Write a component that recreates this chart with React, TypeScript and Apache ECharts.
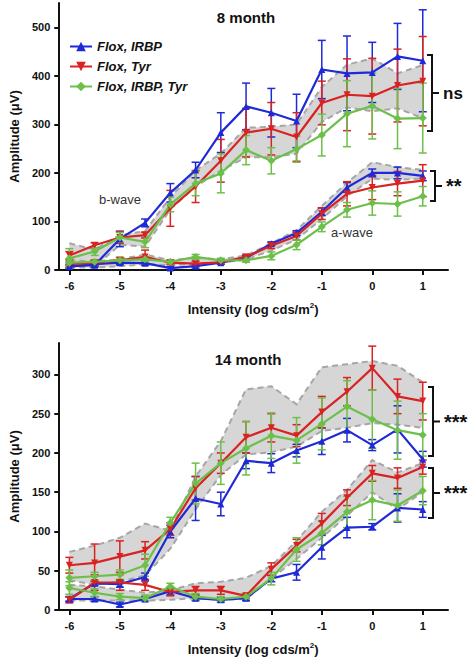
import React, { useEffect, useRef } from "react";
import * as echarts from "echarts";

// ---------- data ----------
const intensity = [-6, -5.5, -5, -4.5, -4, -3.5, -3, -2.5, -2, -1.5, -1, -0.5, 0, 0.5, 1];
const xTicks = [-6, -5, -4, -3, -2, -1, 0, 1];
const yTicks8 = [0, 100, 200, 300, 400, 500];
const yTicks14 = [0, 50, 100, 150, 200, 250, 300];
const groupNames = ["Flox, IRBP", "Flox, Tyr", "Flox, IRBP, Tyr"];

// 8 month b-wave
const m8bIrbp = [8, 10, 64, 97, 159, 206, 283, 337, 324, 307, 413, 405, 407, 440, 431];
const m8bIrbpErr = [4, 4, 16, 8, 19, 16, 41, 48, 50, 55, 60, 77, 62, 68, 105];
const m8bTyr = [30, 51, 67, 72, 127, 172, 225, 283, 291, 274, 344, 361, 358, 380, 389];
const m8bTyrErr = [8, 5, 12, 6, 37, 33, 44, 50, 54, 50, 45, 74, 78, 75, 92];
const m8bBoth = [24, 38, 67, 58, 135, 178, 199, 247, 225, 249, 278, 322, 338, 312, 313];
const m8bBothErr = [20, 8, 10, 12, 15, 25, 40, 30, 27, 27, 43, 68, 68, 62, 72];
// 8 month a-wave
const m8aIrbp = [7, 12, 15, 14, 4, 8, 15, 25, 54, 76, 120, 170, 200, 200, 194];
const m8aIrbpErr = [3, 4, 4, 4, 3, 4, 3, 4, 4, 5, 8, 10, 8, 12, 10];
const m8aTyr = [12, 15, 20, 27, 15, 13, 16, 27, 50, 70, 116, 157, 170, 178, 184];
const m8aTyrErr = [4, 5, 6, 14, 4, 5, 4, 5, 6, 8, 12, 25, 25, 25, 33];
const m8aBoth = [15, 17, 20, 22, 17, 27, 20, 20, 29, 52, 89, 124, 138, 136, 152];
const m8aBothErr = [5, 4, 5, 5, 4, 5, 4, 4, 8, 10, 10, 15, 25, 25, 20];
// 8 month control bands
const m8bBandHi = [55, 42, 72, 80, 150, 205, 240, 293, 295, 300, 377, 423, 436, 405, 422];
const m8bBandLo = [14, 6, 52, 48, 125, 172, 205, 232, 232, 240, 305, 335, 327, 333, 313];
const m8aBandHi = [20, 18, 22, 32, 20, 25, 22, 30, 55, 82, 132, 180, 222, 212, 206];
const m8aBandLo = [5, 5, 8, 12, 10, 12, 15, 22, 40, 63, 105, 152, 188, 186, 188];

// 14 month b-wave
const m14bIrbp = [14, 34, 33, 42, 100, 142, 135, 190, 187, 203, 215, 229, 210, 230, 192];
const m14bIrbpErr = [3, 3, 4, 5, 8, 28, 15, 10, 12, 8, 17, 15, 7, 30, 10];
const m14bTyr = [57, 60, 68, 76, 103, 155, 187, 220, 232, 222, 252, 278, 308, 272, 266];
const m14bTyrErr = [10, 24, 20, 11, 8, 15, 13, 20, 18, 14, 20, 18, 28, 22, 24];
const m14bBoth = [41, 43, 45, 57, 111, 161, 187, 206, 222, 216, 237, 259, 243, 229, 223];
const m14bBothErr = [10, 5, 6, 14, 7, 26, 27, 34, 29, 29, 33, 33, 37, 37, 27];
// 14 month a-wave
const m14aIrbp = [14, 14, 7, 14, 24, 15, 13, 15, 40, 48, 80, 105, 106, 130, 128];
const m14aIrbpErr = [3, 3, 3, 3, 5, 3, 3, 3, 4, 10, 15, 13, 4, 18, 10];
const m14aTyr = [13, 35, 35, 32, 23, 25, 25, 18, 52, 82, 110, 143, 174, 168, 182];
const m14aTyrErr = [4, 10, 10, 7, 5, 5, 5, 3, 8, 8, 13, 10, 10, 13, 9];
const m14aBoth = [28, 22, 17, 15, 30, 17, 14, 17, 40, 77, 98, 125, 140, 133, 152];
const m14aBothErr = [8, 5, 4, 4, 4, 4, 3, 3, 8, 15, 15, 20, 25, 20, 18];
// 14 month control bands
const m14bBandHi = [74, 82, 92, 110, 101, 170, 215, 281, 285, 262, 309, 313, 317, 311, 290];
const m14bBandLo = [38, 32, 36, 44, 78, 128, 172, 198, 201, 208, 228, 232, 238, 236, 232];
const m14aBandHi = [32, 30, 26, 22, 25, 34, 36, 41, 56, 88, 125, 153, 191, 175, 187];
const m14aBandLo = [12, 12, 12, 12, 13, 15, 13, 14, 40, 65, 92, 120, 150, 128, 150];

// ---------- styles ----------
const FONT = "'Liberation Sans', Arial, sans-serif";
const BLUE = "#1f2ad6";
const RED = "#d92222";
const GREEN = "#6cc04a";
const colors = [BLUE, RED, GREEN];
const symbols = ["triangle", "triangle", "diamond"];
const rotates = [0, 180, 0];

function lineSeries(gi: number, k: number, vals: number[]) {
  return {
    type: "line",
    name: groupNames[k],
    xAxisIndex: gi,
    yAxisIndex: gi,
    data: intensity.map((x, i) => [x, vals[i]]),
    symbol: symbols[k],
    symbolRotate: rotates[k],
    symbolSize: k === 2 ? 8 : 7,
    lineStyle: { color: colors[k], width: 2.2 },
    itemStyle: { color: colors[k] },
    z: 5,
    silent: true,
  };
}

function errSeries(gi: number, k: number, vals: number[], errs: number[]) {
  const color = colors[k];
  return {
    type: "custom",
    xAxisIndex: gi,
    yAxisIndex: gi,
    data: intensity.map((x, i) => [x, vals[i], errs[i]]),
    encode: { x: 0, y: 1 },
    clip: false,
    silent: true,
    z: 4,
    renderItem: (params: any, api: any) => {
      const x = api.value(0);
      const m = api.value(1);
      const e = api.value(2);
      const t = api.coord([x, m + e]);
      const b = api.coord([x, Math.max(0, m - e)]);
      const c = 4;
      const st = { stroke: color, lineWidth: 1.5 };
      return {
        type: "group",
        children: [
          { type: "line", shape: { x1: t[0], y1: t[1], x2: b[0], y2: b[1] }, style: st },
          { type: "line", shape: { x1: t[0] - c, y1: t[1], x2: t[0] + c, y2: t[1] }, style: st },
          { type: "line", shape: { x1: b[0] - c, y1: b[1], x2: b[0] + c, y2: b[1] }, style: st },
        ],
      };
    },
  };
}

function bandSeries(gi: number, hi: number[], lo: number[]) {
  return {
    type: "custom",
    xAxisIndex: gi,
    yAxisIndex: gi,
    data: [[intensity[0], lo[0]]],
    encode: { x: 0, y: 1 },
    clip: false,
    silent: true,
    z: 1,
    renderItem: (params: any, api: any) => {
      const up = intensity.map((x, i) => api.coord([x, hi[i]]));
      const dn = intensity.map((x, i) => api.coord([x, lo[i]]));
      const dash = { stroke: "#a6a6a6", lineWidth: 2, lineDash: [6, 4], fill: null };
      return {
        type: "group",
        children: [
          { type: "polygon", shape: { points: [...up, ...dn.slice().reverse()] }, style: { fill: "#d6d6d6" } },
          { type: "polyline", shape: { points: up }, style: dash },
          { type: "polyline", shape: { points: dn }, style: dash },
        ],
      };
    },
  };
}

const labelStyle = { fontFamily: FONT, fontWeight: "bold", fontSize: 11, color: "#111" };
const axisLine = { show: true, onZero: false, lineStyle: { color: "#111", width: 2 } };

function xAxis(gi: number) {
  return {
    type: "value",
    gridIndex: gi,
    min: -6.22,
    max: 1.5,
    axisLine,
    axisTick: { show: true, length: 5, lineStyle: { color: "#111", width: 2 }, customValues: xTicks },
    axisLabel: { ...labelStyle, margin: 10, customValues: xTicks },
    splitLine: { show: false },
    name: "Intensity (log cds/m{sup|2})",
    nameLocation: "middle",
    nameGap: 31,
    nameTextStyle: {
      fontFamily: FONT,
      fontWeight: "bold",
      fontSize: 13,
      color: "#111",
      rich: { sup: { fontFamily: FONT, fontWeight: "bold", fontSize: 8, color: "#111", verticalAlign: "top", padding: [0, 0, 8, 0] } },
    },
  };
}

function yAxis(gi: number, max: number, ticks: number[]) {
  return {
    type: "value",
    gridIndex: gi,
    min: 0,
    max,
    axisLine,
    axisTick: { show: true, length: 4, lineStyle: { color: "#111", width: 2 }, customValues: ticks },
    axisLabel: { ...labelStyle, margin: 8, customValues: ticks },
    splitLine: { show: false },
    name: "Amplitude (μV)",
    nameLocation: "middle",
    nameGap: 32,
    nameTextStyle: { fontFamily: FONT, fontWeight: "bold", fontSize: 13, color: "#111" },
  };
}

function bracket(xv: number, y1: number, y2: number, text: string, size: number) {
  const ym = (y1 + y2) / 2;
  return [
    {
      type: "polyline",
      shape: { points: [[xv - 5, y1], [xv, y1], [xv, y2], [xv - 5, y2]] },
      style: { stroke: "#111", lineWidth: 2, fill: null },
    },
    { type: "line", shape: { x1: xv, y1: ym, x2: xv + 7, y2: ym }, style: { stroke: "#111", lineWidth: 2 } },
    {
      type: "text",
      x: xv + 11,
      y: ym,
      style: { text, fontFamily: FONT, fontWeight: "bold", fontSize: size, fill: "#111", verticalAlign: "middle", align: "left" },
    },
  ];
}

export default function App() {
  const ref = useRef<HTMLDivElement>(null);
  useEffect(() => {
    if (!ref.current) return;
    const chart = echarts.init(ref.current, null, { renderer: "svg" });

    const m8 = {
      b: [m8bIrbp, m8bTyr, m8bBoth],
      be: [m8bIrbpErr, m8bTyrErr, m8bBothErr],
      a: [m8aIrbp, m8aTyr, m8aBoth],
      ae: [m8aIrbpErr, m8aTyrErr, m8aBothErr],
    };
    const m14 = {
      b: [m14bIrbp, m14bTyr, m14bBoth],
      be: [m14bIrbpErr, m14bTyrErr, m14bBothErr],
      a: [m14aIrbp, m14aTyr, m14aBoth],
      ae: [m14aIrbpErr, m14aTyrErr, m14aBothErr],
    };

    const series: any[] = [];
    series.push(bandSeries(0, m8bBandHi, m8bBandLo));
    series.push(bandSeries(0, m8aBandHi, m8aBandLo));
    series.push(bandSeries(1, m14bBandHi, m14bBandLo));
    series.push(bandSeries(1, m14aBandHi, m14aBandLo));
    [m8, m14].forEach((d, gi) => {
      for (let k = 0; k < 3; k++) {
        series.push(errSeries(gi, k, d.b[k], d.be[k]));
        series.push(errSeries(gi, k, d.a[k], d.ae[k]));
      }
    });
    [m8, m14].forEach((d, gi) => {
      for (let k = 0; k < 3; k++) {
        series.push(lineSeries(gi, k, d.b[k]));
        series.push(lineSeries(gi, k, d.a[k]));
      }
    });

    const option: any = {
      animation: false,
      backgroundColor: "#ffffff",
      grid: [
        { left: 46, top: 3, width: 402, height: 267 },
        { left: 46, top: 343, width: 402, height: 267 },
      ],
      xAxis: [xAxis(0), xAxis(1)],
      yAxis: [yAxis(0, 550, yTicks8), yAxis(1, 340, yTicks14)],
      legend: {
        data: groupNames,
        orient: "vertical",
        left: 64,
        top: 35,
        itemWidth: 22,
        itemHeight: 12,
        itemGap: 7,
        selectedMode: false,
        textStyle: { fontFamily: FONT, fontWeight: "bold", fontStyle: "italic", fontSize: 13, color: "#111" },
      },
      graphic: [
        {
          type: "text",
          x: 246,
          y: 17,
          style: { text: "8 month", fontFamily: FONT, fontWeight: "bold", fontSize: 15, fill: "#111", align: "center", verticalAlign: "middle" },
        },
        {
          type: "text",
          x: 248,
          y: 359,
          style: { text: "14 month", fontFamily: FONT, fontWeight: "bold", fontSize: 15, fill: "#111", align: "center", verticalAlign: "middle" },
        },
        {
          type: "text",
          x: 120,
          y: 199,
          style: { text: "b-wave", fontFamily: FONT, fontSize: 13, fill: "#333", align: "center", verticalAlign: "middle" },
        },
        {
          type: "text",
          x: 352,
          y: 232,
          style: { text: "a-wave", fontFamily: FONT, fontSize: 13, fill: "#333", align: "center", verticalAlign: "middle" },
        },
        ...bracket(432, 55, 131, "ns", 17),
        ...bracket(435, 171, 201, "**", 20),
        ...bracket(433, 387, 456, "***", 20),
        ...bracket(433, 468, 518, "***", 20),
      ],
      series,
    };
    chart.setOption(option);
    return () => chart.dispose();
  }, []);
  return <div ref={ref} style={{ position: "absolute", left: 0, top: 0, width: 472, height: 658 }} />;
}
